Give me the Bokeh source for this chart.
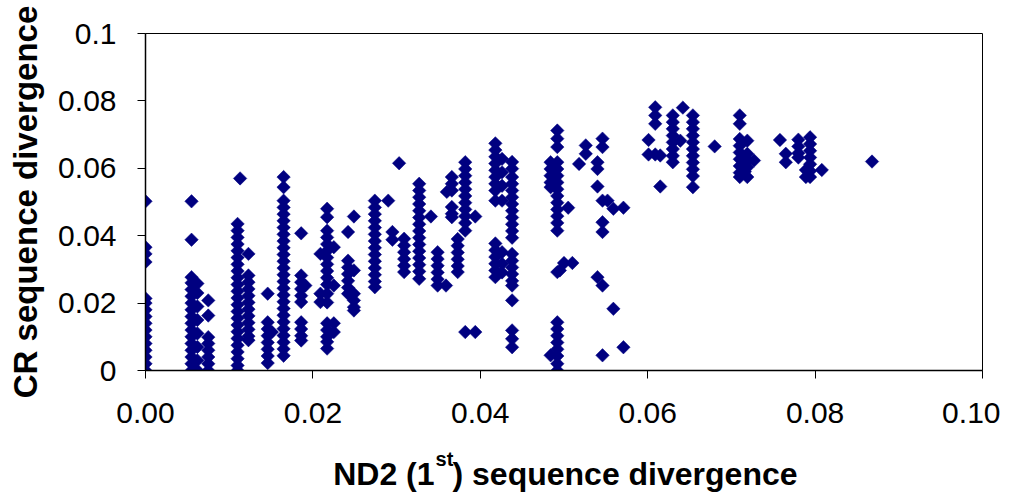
import math
from bokeh.plotting import figure
from bokeh.layouts import column
from bokeh.models import Range1d, FixedTicker, NumeralTickFormatter, Label, ColumnDataSource
from bokeh.embed import file_html
from bokeh.resources import INLINE

# ND2 divergence (x) for each vertical group of points, and CR divergence values (y) in that group
col_x = [
    0.0000, 0.0055, 0.0062, 0.0075, 0.0110, 0.0113, 0.0123, 0.0146, 0.0151, 0.0165,
    0.0186, 0.0191, 0.0209, 0.0217, 0.0225, 0.0242, 0.0249, 0.0274, 0.0290, 0.0295,
    0.0303, 0.0309, 0.0327, 0.0341, 0.0349, 0.0359, 0.0360, 0.0366, 0.0373, 0.0382,
    0.0394, 0.0418, 0.0426, 0.0438, 0.0484, 0.0492, 0.0495, 0.0500, 0.0505, 0.0510,
    0.0518, 0.0526, 0.0540, 0.0546, 0.0552, 0.0559, 0.0571, 0.0601, 0.0609, 0.0615,
    0.0630, 0.0639, 0.0642, 0.0654, 0.0680, 0.0710, 0.0716, 0.0719, 0.0727, 0.0758,
    0.0765, 0.0780, 0.0789, 0.0794, 0.0808, 0.0868,
]
col_y = [
    [0.0502, 0.0366, 0.0346, 0.0322, 0.0214, 0.0200, 0.0180, 0.0160, 0.0140, 0.0120, 0.0100, 0.0080, 0.0060, 0.0040, 0.0020, 0.0000],
    [0.0502, 0.0388, 0.0277, 0.0260, 0.0240, 0.0220, 0.0200, 0.0180, 0.0160, 0.0140, 0.0120, 0.0100, 0.0080, 0.0060, 0.0040, 0.0020, 0.0000],
    [0.0258, 0.0230, 0.0190, 0.0150, 0.0110, 0.0070, 0.0030, 0.0000],
    [0.0208, 0.0163, 0.0099, 0.0080, 0.0060, 0.0040, 0.0020, 0.0000],
    [0.0435, 0.0415, 0.0395, 0.0375, 0.0355, 0.0335, 0.0315, 0.0295, 0.0275, 0.0255, 0.0235, 0.0215, 0.0195, 0.0175, 0.0155, 0.0135, 0.0115, 0.0095, 0.0075, 0.0055, 0.0035, 0.0015, 0.0000],
    [0.0570],
    [0.0346, 0.0282, 0.0262, 0.0242, 0.0222, 0.0202, 0.0182, 0.0162, 0.0142, 0.0122, 0.0102, 0.0090],
    [0.0228, 0.0143, 0.0123, 0.0103, 0.0083, 0.0063, 0.0043, 0.0022],
    [0.0114],
    [0.0574, 0.0544, 0.0504, 0.0484, 0.0464, 0.0444, 0.0424, 0.0404, 0.0384, 0.0364, 0.0344, 0.0324, 0.0304, 0.0284, 0.0264, 0.0244, 0.0224, 0.0204, 0.0184, 0.0164, 0.0144, 0.0124, 0.0104, 0.0084, 0.0064, 0.0044],
    [0.0407, 0.0282, 0.0262, 0.0242, 0.0222, 0.0203, 0.0143, 0.0123, 0.0103, 0.0089],
    [0.0252],
    [0.0346, 0.0228, 0.0203],
    [0.0480, 0.0455, 0.0415, 0.0395, 0.0375, 0.0355, 0.0335, 0.0315, 0.0295, 0.0275, 0.0255, 0.0228, 0.0202, 0.0140, 0.0120, 0.0100, 0.0085, 0.0065],
    [0.0366, 0.0252, 0.0140, 0.0114],
    [0.0411, 0.0326, 0.0306, 0.0286, 0.0266, 0.0246, 0.0228],
    [0.0457, 0.0297, 0.0228, 0.0208, 0.0188, 0.0178],
    [0.0504, 0.0484, 0.0464, 0.0444, 0.0424, 0.0404, 0.0384, 0.0364, 0.0344, 0.0324, 0.0304, 0.0284, 0.0264, 0.0247],
    [0.0504],
    [0.0411, 0.0388],
    [0.0615],
    [0.0391, 0.0371, 0.0351, 0.0331, 0.0311, 0.0292],
    [0.0554, 0.0534, 0.0514, 0.0494, 0.0474, 0.0454, 0.0434, 0.0414, 0.0394, 0.0374, 0.0354, 0.0334, 0.0314, 0.0294, 0.0272],
    [0.0457],
    [0.0351, 0.0331, 0.0311, 0.0291, 0.0271, 0.0252],
    [0.0252],
    [0.0530],
    [0.0574, 0.0554, 0.0534, 0.0485, 0.0465, 0.0455],
    [0.0390, 0.0370, 0.0350, 0.0330, 0.0310, 0.0292],
    [0.0618, 0.0598, 0.0578, 0.0558, 0.0538, 0.0518, 0.0498, 0.0478, 0.0458, 0.0438, 0.0415, 0.0114],
    [0.0457, 0.0114],
    [0.0674, 0.0654, 0.0634, 0.0614, 0.0594, 0.0574, 0.0554, 0.0534, 0.0504, 0.0377, 0.0357, 0.0337, 0.0317, 0.0297, 0.0277],
    [0.0628, 0.0588, 0.0548, 0.0504, 0.0351, 0.0317, 0.0291],
    [0.0619, 0.0599, 0.0574, 0.0554, 0.0534, 0.0514, 0.0494, 0.0474, 0.0454, 0.0434, 0.0414, 0.0394, 0.0346, 0.0326, 0.0306, 0.0286, 0.0266, 0.0252, 0.0208, 0.0119, 0.0094, 0.0069],
    [0.0618, 0.0598, 0.0578, 0.0558, 0.0544, 0.0045],
    [0.0712, 0.0688, 0.0663, 0.0618, 0.0598, 0.0578, 0.0558, 0.0538, 0.0518, 0.0498, 0.0478, 0.0458, 0.0438, 0.0415, 0.0292, 0.0143, 0.0123, 0.0103, 0.0083, 0.0063, 0.0043, 0.0020, 0.0000],
    [0.0297],
    [0.0319],
    [0.0483],
    [0.0319],
    [0.0613],
    [0.0668, 0.0643],
    [0.0618, 0.0598, 0.0546, 0.0277],
    [0.0688, 0.0663, 0.0504, 0.0440, 0.0411, 0.0252, 0.0045],
    [0.0504],
    [0.0480, 0.0183],
    [0.0483, 0.0069],
    [0.0684, 0.0641],
    [0.0781, 0.0757, 0.0732, 0.0641],
    [0.0638, 0.0546],
    [0.0757, 0.0737, 0.0717, 0.0697, 0.0677, 0.0657, 0.0637, 0.0618],
    [0.0682],
    [0.0780],
    [0.0757, 0.0737, 0.0717, 0.0697, 0.0677, 0.0657, 0.0637, 0.0617, 0.0597, 0.0577, 0.0544],
    [0.0665],
    [0.0757, 0.0732, 0.0687, 0.0667, 0.0647, 0.0627, 0.0607, 0.0587, 0.0574],
    [0.0630, 0.0610, 0.0590],
    [0.0682, 0.0643, 0.0623, 0.0603, 0.0574],
    [0.0623],
    [0.0684],
    [0.0643, 0.0618],
    [0.0685, 0.0665, 0.0645, 0.0632],
    [0.0595, 0.0574],
    [0.0692, 0.0672, 0.0652, 0.0632, 0.0612, 0.0592, 0.0574],
    [0.0595],
    [0.0620],
]

x_ticks = [0.0, 0.02, 0.04, 0.06, 0.08, 0.10]
y_ticks = [0.0, 0.02, 0.04, 0.06, 0.08, 0.10]

xs, ys = [], []
for cx, cys in zip(col_x, col_y):
    for cy in cys:
        xs.append(cx)
        ys.append(cy)
src = ColumnDataSource(dict(x=xs, y=ys))

FONT = "Liberation Sans"

p = figure(width=1000, height=440, output_backend="svg", toolbar_location=None,
           x_range=Range1d(0, 0.1), y_range=Range1d(0, 0.1),
           min_border_left=145, min_border_right=18, min_border_top=33, min_border_bottom=70)
p.background_fill_color = "white"
p.border_fill_color = "white"
p.outline_line_color = "black"
p.outline_line_width = 1
p.grid.visible = False

p.scatter("x", "y", source=src, marker="square", angle=math.pi / 4, size=9.5,
          fill_color="#000080", line_color="#000080", line_width=0.5)

for ax in (p.xaxis[0], p.yaxis[0]):
    ax.axis_line_color = "black"
    ax.axis_line_width = 1.5
    ax.major_tick_line_color = "black"
    ax.major_tick_line_width = 1
    ax.major_tick_out = 8
    ax.major_tick_in = 0
    ax.minor_tick_line_color = None
    ax.major_label_text_font = FONT
    ax.major_label_text_font_size = "30px"
    ax.major_label_text_color = "black"

p.xaxis.major_label_standoff = 24
p.yaxis.major_label_standoff = 21
p.xaxis.ticker = FixedTicker(ticks=x_ticks)
p.yaxis.ticker = FixedTicker(ticks=y_ticks)
p.xaxis.formatter = NumeralTickFormatter(format="0.00")
p.yaxis.formatter = NumeralTickFormatter(format="0.[00]")

p.yaxis.axis_label = "CR sequence divergence"
p.yaxis.axis_label_text_font = FONT
p.yaxis.axis_label_text_font_size = "33px"
p.yaxis.axis_label_text_font_style = "bold"
p.yaxis.axis_label_text_color = "black"
p.yaxis.axis_label_standoff = 11

# strip holding the x-axis title (with superscript); it shares the x scale of the chart
p2 = figure(width=1000, height=56, output_backend="svg", toolbar_location=None,
            x_range=p.x_range, y_range=Range1d(0, 56),
            min_border_left=145, min_border_right=18, min_border_top=0, min_border_bottom=0,
            x_axis_location=None, y_axis_location=None)
p2.grid.visible = False
p2.outline_line_color = None
p2.background_fill_color = "white"
p2.border_fill_color = "white"

lab_kw = dict(text_font=FONT, text_font_style="bold", text_color="black", text_baseline="alphabetic")
p2.add_layout(Label(x=0.03453, y=23, text="ND2 (1", text_align="right", text_font_size="32px", **lab_kw))
p2.add_layout(Label(x=0.03465, y=38, text="st", text_align="left", text_font_size="20px", **lab_kw))
p2.add_layout(Label(x=0.03668, y=23, text=") sequence divergence", text_align="left", text_font_size="32px", **lab_kw))

layout = column(p, p2, spacing=0)
open("out.html", "w").write(file_html(layout, INLINE))
